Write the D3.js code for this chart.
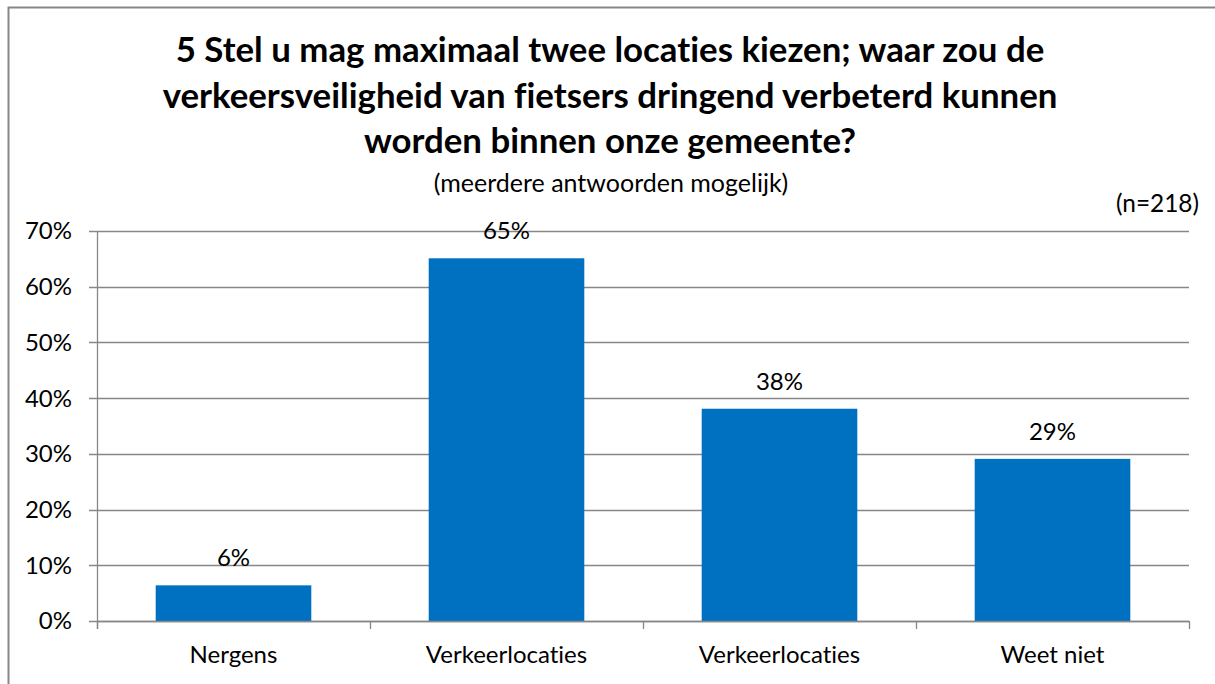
<!DOCTYPE html>
<html>
<head>
<meta charset="utf-8">
<script src="https://cdn.jsdelivr.net/npm/d3@7"></script>
<style>
  html, body { margin: 0; padding: 0; background: #fff; }
  svg { display: block; font-family: Lato, "Open Sans", sans-serif; font-variant-ligatures: none; font-feature-settings: "liga" 0, "clig" 0; }
</style>
</head>
<body>
<div id="chart"></div>
<script>
var titleLines = [
	"5 Stel u mag maximaal twee locaties kiezen; waar zou de",
	"verkeersveiligheid van fietsers dringend verbeterd kunnen",
	"worden binnen onze gemeente?"
];
var subtitle = "(meerdere antwoorden mogelijk)";
var sampleNote = "(n=218)";
var categories = ["Nergens", "Verkeerlocaties", "Verkeerlocaties", "Weet niet"];
var values = [6.4, 65.1, 38.1, 29.1];
var yTicks = [0, 10, 20, 30, 40, 50, 60, 70];

var width = 1215, height = 684;
var gridColor = "#878787";
var barColor = "#0070C0";
var labelSize = 24;

var svg = d3.select("#chart").append("svg")
	.attr("width", width)
	.attr("height", height);

// chart frame (only top and left edges are visible in the crop)
svg.append("path")
	.attr("d", "M8.5," + height + "V7.5H" + width)
	.attr("fill", "none")
	.attr("stroke", gridColor)
	.attr("stroke-width", 2);

// title
svg.append("g").selectAll("text")
	.data(titleLines)
	.enter().append("text")
	.attr("x", 610)
	.attr("y", function(d, i){ return 62 + i * 45.5; })
	.attr("text-anchor", "middle")
	.attr("font-size", 34.8)
	.attr("font-weight", "bold")
	.attr("fill", "#000")
	.text(function(d){ return d; });

svg.append("text")
	.attr("x", 611)
	.attr("y", 192)
	.attr("text-anchor", "middle")
	.attr("font-size", 25)
	.text(subtitle);

svg.append("text")
	.attr("x", 1199)
	.attr("y", 212)
	.attr("text-anchor", "end")
	.attr("font-size", 24.4)
	.text(sampleNote);

var x = d3.scaleBand()
	.domain(d3.range(categories.length))
	.range([97, 1189])
	.paddingInner(0.43)
	.paddingOuter(0.215);

var y = d3.scaleLinear()
	.domain([0, 70])
	.range([621, 231]);

// gridlines
svg.append("g")
	.selectAll("line")
	.data(yTicks)
	.enter().append("line")
	.attr("x1", 89)
	.attr("x2", 1189)
	.attr("y1", function(d){ return Math.round(y(d)) + 0.5; })
	.attr("y2", function(d){ return Math.round(y(d)) + 0.5; })
	.attr("stroke", gridColor)
	.attr("stroke-width", 1.3);

// y labels
svg.append("g")
	.selectAll("text")
	.data(yTicks)
	.enter().append("text")
	.attr("x", 72)
	.attr("y", function(d){ return y(d); })
	.attr("dy", "0.35em")
	.attr("text-anchor", "end")
	.attr("font-size", labelSize)
	.text(function(d){ return d + "%"; });

// bars
svg.append("g")
	.selectAll("rect")
	.data(values)
	.enter().append("rect")
	.attr("x", function(d, i){ return x(i); })
	.attr("width", x.bandwidth())
	.attr("y", function(d){ return y(d); })
	.attr("height", function(d){ return y(0) - y(d); })
	.attr("fill", barColor);

// value labels
svg.append("g")
	.selectAll("text")
	.data(values)
	.enter().append("text")
	.attr("x", function(d, i){ return x(i) + x.bandwidth() / 2; })
	.attr("y", function(d){ return y(d) - 19; })
	.attr("text-anchor", "middle")
	.attr("font-size", labelSize)
	.text(function(d){ return d3.format(".0f")(d) + "%"; });

// axes lines
var step = x.step();
var bounds = d3.range(categories.length + 1).map(function(i){ return 97 + i * step; });

svg.append("line")
	.attr("x1", 97.5).attr("x2", 97.5)
	.attr("y1", y(70)).attr("y2", 629)
	.attr("stroke", gridColor)
	.attr("stroke-width", 1.3);

svg.append("line")
	.attr("x1", 97).attr("x2", 1189)
	.attr("y1", Math.round(y(0)) + 0.5).attr("y2", Math.round(y(0)) + 0.5)
	.attr("stroke", gridColor)
	.attr("stroke-width", 1.3);

svg.append("g")
	.selectAll("line")
	.data(bounds)
	.enter().append("line")
	.attr("x1", function(d){ return Math.round(d) + 0.5; })
	.attr("x2", function(d){ return Math.round(d) + 0.5; })
	.attr("y1", y(0))
	.attr("y2", 629)
	.attr("stroke", gridColor)
	.attr("stroke-width", 1.3);

// category labels
svg.append("g")
	.selectAll("text")
	.data(categories)
	.enter().append("text")
	.attr("x", function(d, i){ return x(i) + x.bandwidth() / 2; })
	.attr("y", 663)
	.attr("text-anchor", "middle")
	.attr("font-size", labelSize)
	.text(function(d){ return d; });
</script>
</body>
</html>
